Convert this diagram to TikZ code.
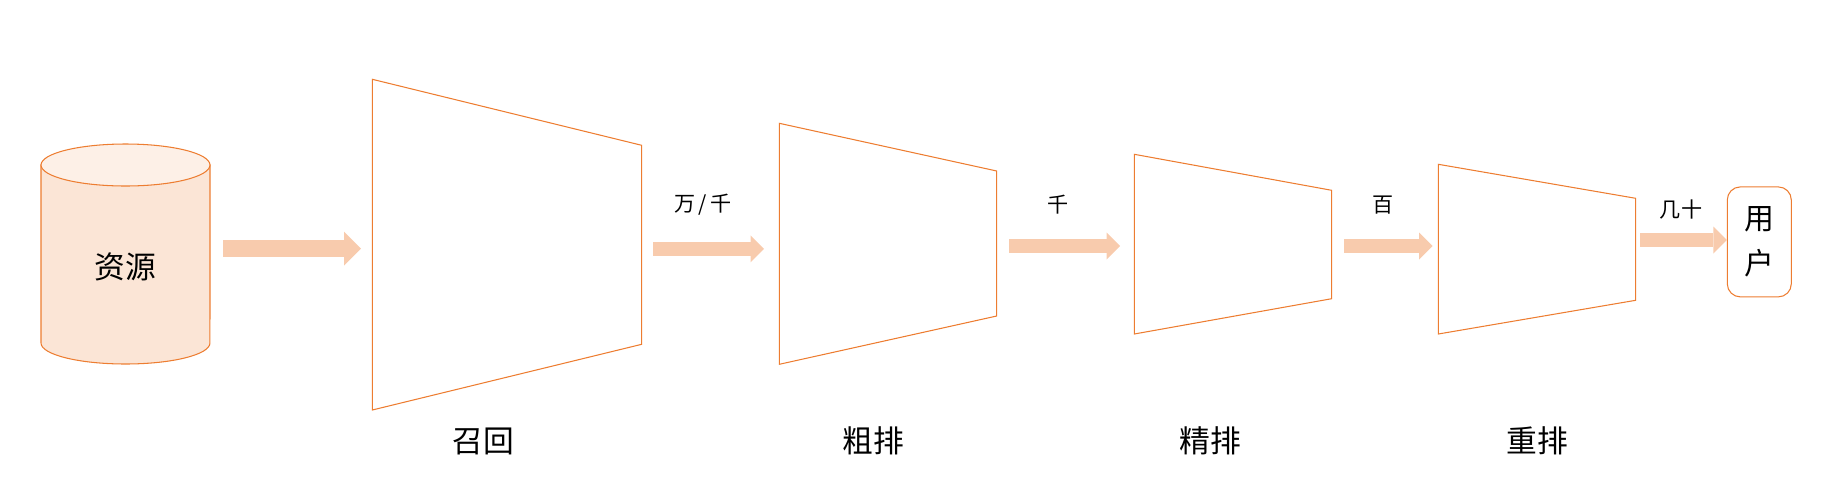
\documentclass[tikz,border=0pt]{standalone}
\usepackage{fontspec}
\newfontfamily\cjk{Noto Sans CJK SC}
\usetikzlibrary{arrows.meta}

\definecolor{funnelorange}{HTML}{ED7D31}
\definecolor{flowpeach}{HTML}{F8CBAD}
\definecolor{dbbody}{HTML}{FBE5D6}
\definecolor{dbtop}{HTML}{FDF0E7}

\tikzset{
    funnel/.style={draw=funnelorange, line width=0.6pt},
    flow/.style={draw=flowpeach, line width=0.27cm,
        -{Triangle[length=0.27cm, width=0.54cm, line width=0pt]}},
    bigflow/.style={draw=flowpeach, line width=0.34cm,
        -{Triangle[length=0.34cm, width=0.68cm, line width=0pt]}},
    stage/.style={font=\cjk\fontsize{17.5}{21}\selectfont},
    count/.style={font=\cjk\fontsize{12}{14}\selectfont},
}

\begin{document}
\begin{tikzpicture}[x=0.02cm, y=-0.02cm]
    \useasboundingbox (0,0) rectangle (1837,501);

    \filldraw[funnel, fill=dbbody] (41,165) -- (41,343)
        arc[start angle=180, end angle=360, x radius=1.69cm, y radius=0.42cm]
        -- (210,165) -- cycle;
    \filldraw[funnel, fill=dbtop] (125.5,165) ellipse[x radius=1.69cm, y radius=0.42cm];
    \node[stage] (source) at (125.5,267) {资源};

    \draw[funnel] (372.3,79.3) -- (641.7,145.3) -- (641.7,344.3) -- (372.3,410) -- cycle;
    \draw[funnel] (779.3,123.3) -- (996.7,171) -- (996.7,316) -- (779.3,364.3) -- cycle;
    \draw[funnel] (1134.3,154.3) -- (1331.7,190.3) -- (1331.7,298.7) -- (1134.3,334) -- cycle;
    \draw[funnel] (1438.3,164.3) -- (1635.7,198.3) -- (1635.7,300.3) -- (1438.3,334) -- cycle;

    \node[stage] (recall) at (483,441) {召回};
    \node[stage] (prerank) at (873,441) {粗排};
    \node[stage] (rank) at (1210,441) {精排};
    \node[stage] (rerank) at (1537,441) {重排};

    \node[funnel, stage, rounded corners=0.26cm, minimum width=1.28cm, minimum height=2.2cm,
        align=center, font=\cjk\fontsize{17}{25.6}\selectfont] (user) at (1759.3,241.9) {用\\户};

    \coordinate (s0) at (223,248.5);   \coordinate (e0) at (361,248.5);
    \coordinate (s1) at (653,248.8);   \coordinate (e1) at (764,248.8);
    \coordinate (s2) at (1009,246);    \coordinate (e2) at (1120,246);
    \coordinate (s3) at (1344,246);    \coordinate (e3) at (1432.7,246);
    \coordinate (s4) at (1640,240);    \coordinate (e4) at (user.west);

    \draw[bigflow] (s0) -- (e0);
    \draw[flow] (s1) -- (e1);
    \draw[flow] (s2) -- (e2);
    \draw[flow] (s3) -- (e3);
    \draw[flow] (s4) -- (e4 |- s4);

    \node[count] (tenk) at (703,205) {万\,/\,千};
    \node[count] (thousand) at (1058,205) {千};
    \node[count] (hundred) at (1383,205) {百};
    \node[count] (tens) at (1681,210) {几十};
\end{tikzpicture}
\end{document}
